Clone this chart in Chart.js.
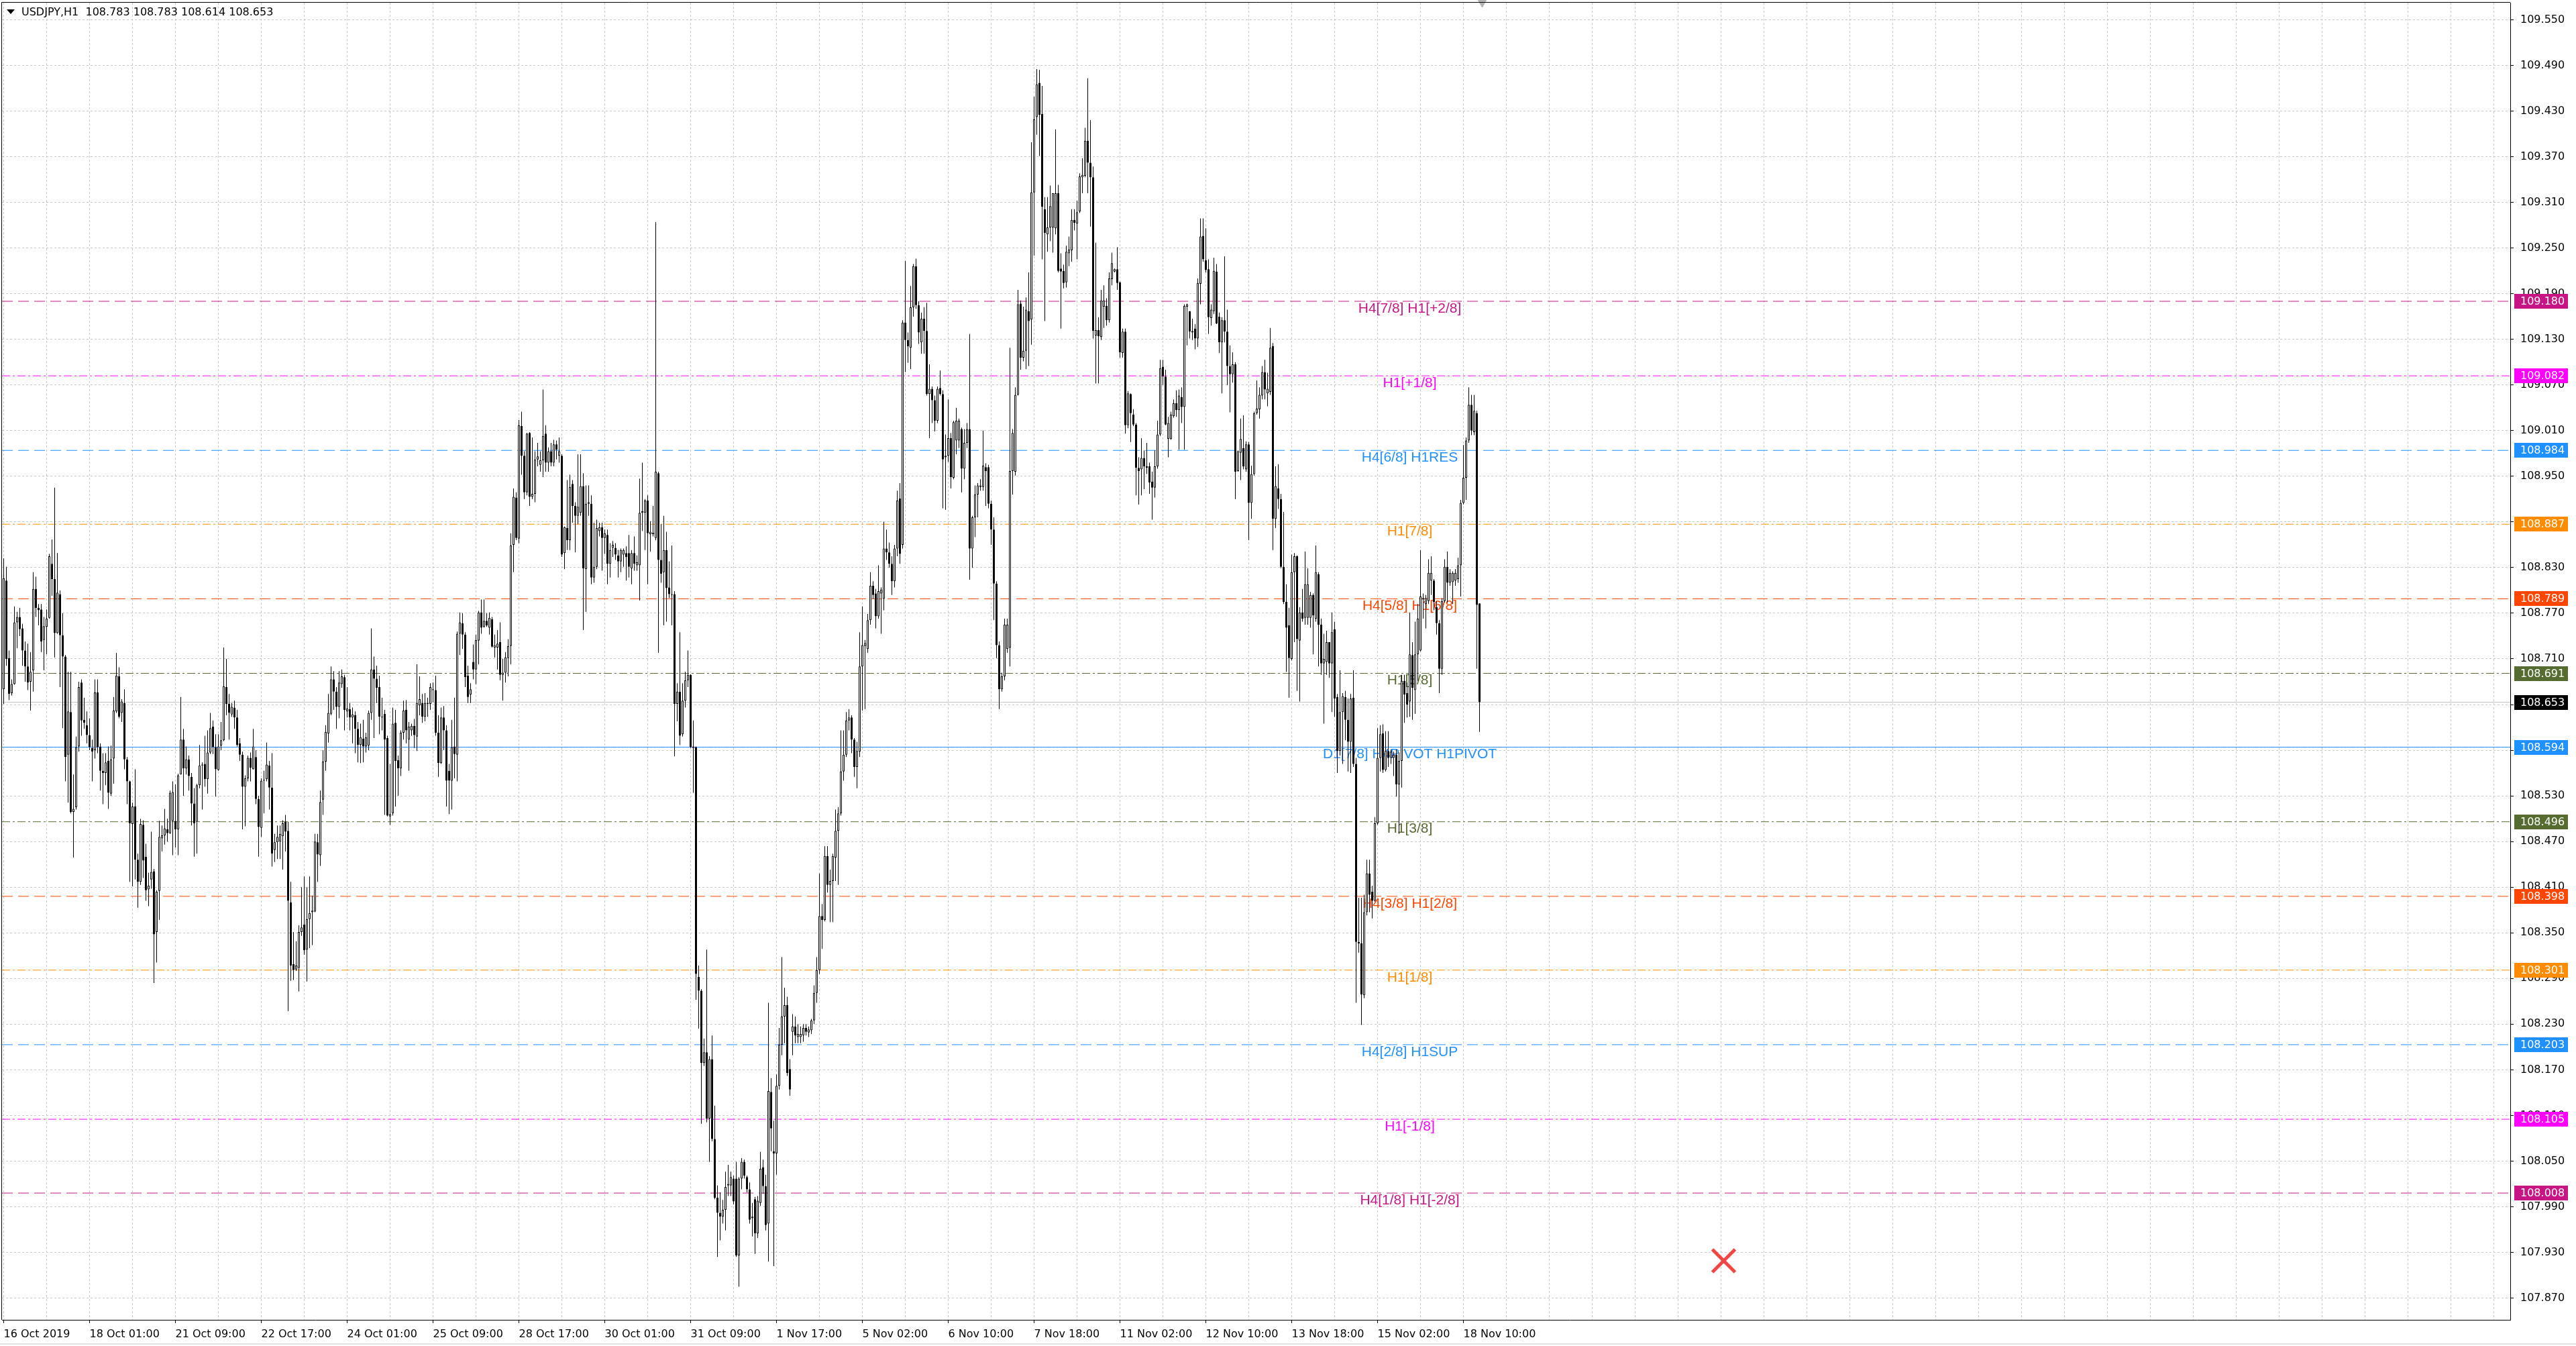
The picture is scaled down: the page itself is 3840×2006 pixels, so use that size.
<!DOCTYPE html>
<html>
<head>
<meta charset="utf-8">
<title>USDJPY,H1</title>
<script src="https://cdn.jsdelivr.net/npm/chart.js@4.4.1/dist/chart.umd.min.js"></script>
<style>
  html, body { margin: 0; padding: 0; background: #fff; overflow: hidden; }
  canvas { display: block; }
</style>
</head>
<body>
<canvas id="chart" width="3840" height="2006"></canvas>
<script>
// USDJPY H1 candles, bar 0 = 16 Oct 2019 17:00, one bar per hour
const openPrices = [
  108.670,108.813,108.711,108.665,108.677,108.758,108.765,108.750,108.721,108.700,
  108.680,108.695,108.802,108.777,108.775,108.735,108.752,108.764,108.835,108.815,
  108.744,108.795,108.741,108.713,108.584,108.640,108.509,108.515,108.595,108.679,
  108.630,108.623,108.610,108.593,108.590,108.666,108.595,108.563,108.560,108.576,
  108.533,108.579,108.641,108.687,108.639,108.652,108.578,108.549,108.493,108.516,
  108.446,108.417,108.492,108.450,108.407,108.420,108.431,108.351,108.405,108.474,
  108.478,108.486,108.481,108.497,108.497,108.486,108.558,108.604,108.566,108.578,
  108.555,108.520,108.496,108.544,108.571,108.572,108.552,108.587,108.621,108.594,
  108.564,108.596,108.603,108.673,108.651,108.637,108.646,108.633,108.599,108.584,
  108.542,108.553,108.580,108.565,108.581,108.526,108.488,108.550,108.552,108.570,
  108.541,108.459,108.469,108.470,108.477,108.496,108.484,108.390,108.309,108.302,
  108.304,108.351,108.361,108.328,108.368,108.377,108.378,108.469,108.452,108.525,
  108.575,108.612,108.638,108.683,108.667,108.647,108.677,108.686,108.641,108.644,
  108.633,108.636,108.618,108.597,108.605,108.595,108.596,108.639,108.696,108.684,
  108.673,108.634,108.638,108.606,108.503,108.507,108.626,108.577,108.566,108.613,
  108.643,108.604,108.616,108.622,108.608,108.649,108.652,108.634,108.652,108.651,
  108.670,108.669,108.613,108.573,108.633,108.616,108.563,108.550,108.595,108.584,
  108.743,108.757,108.742,108.688,108.663,108.706,108.696,108.734,108.771,108.752,
  108.760,108.751,108.762,108.725,108.725,108.732,108.689,108.692,108.711,108.727,
  108.860,108.922,108.868,109.016,108.977,108.929,109.007,108.923,108.927,108.972,
  108.965,108.971,109.006,108.968,108.983,108.968,108.992,108.977,108.977,108.849,
  108.882,108.866,108.940,108.911,108.898,108.902,108.937,108.828,108.914,108.914,
  108.817,108.831,108.878,108.883,108.869,108.873,108.835,108.856,108.856,108.846,
  108.838,108.847,108.849,108.849,108.829,108.849,108.833,108.833,108.902,108.902,
  108.918,108.874,108.874,108.869,108.954,108.840,108.824,108.853,108.804,108.794,
  108.795,108.651,108.667,108.611,108.655,108.682,108.689,108.595,108.594,108.292,
  108.274,108.179,108.193,108.106,108.184,108.079,108.002,107.982,107.977,107.986,
  108.018,108.018,108.027,108.027,107.926,108.027,108.049,108.029,108.013,107.975,
  108.000,107.955,107.995,108.042,108.017,107.968,108.141,108.063,108.060,108.149,
  108.203,108.240,108.255,108.171,108.220,108.227,108.213,108.213,108.215,108.225,
  108.219,108.222,108.235,108.271,108.301,108.372,108.367,108.451,108.413,108.418,
  108.449,108.484,108.507,108.562,108.584,108.629,108.633,108.604,108.568,108.588,
  108.700,108.727,108.723,108.761,108.806,108.796,108.766,108.796,108.789,108.855,
  108.850,108.835,108.812,108.855,108.921,108.860,109.152,109.129,109.119,109.172,
  109.226,109.175,109.126,109.157,109.141,109.058,109.065,109.050,109.023,109.066,
  109.058,108.975,108.977,109.000,108.948,108.997,108.997,109.012,108.960,108.994,
  109.012,108.855,108.896,108.926,108.936,108.936,108.962,108.962,108.914,108.880,
  108.809,108.728,108.670,108.687,108.723,108.725,108.957,108.956,109.057,109.177,
  109.106,109.115,109.167,109.156,109.323,109.422,109.467,109.426,109.301,109.268,
  109.277,109.277,109.276,109.322,109.223,109.220,109.205,109.243,109.247,109.287,
  109.282,109.298,109.343,109.345,109.391,109.362,109.343,109.135,109.142,109.133,
  109.173,109.174,109.155,109.209,109.219,109.222,109.205,109.112,109.140,109.017,
  109.058,109.031,109.018,108.961,108.959,108.974,108.963,108.963,108.943,108.935,
  108.963,109.005,109.094,109.081,108.999,108.999,109.029,109.046,109.037,109.054,
  109.041,109.173,109.167,109.139,109.144,109.131,109.203,109.266,109.234,109.222,
  109.158,109.167,109.219,109.160,109.126,109.155,109.140,109.095,109.084,109.097,
  108.957,108.981,108.987,108.959,108.992,108.915,108.953,109.033,109.038,109.056,
  109.087,109.059,109.061,109.121,108.894,108.934,108.920,108.831,108.785,108.754,
  108.710,108.824,108.845,108.734,108.771,108.764,108.764,108.764,108.794,108.763,
  108.821,108.755,108.704,108.706,108.732,108.704,108.749,108.660,108.589,108.640,
  108.660,108.630,108.601,108.659,108.572,108.338,108.336,108.268,108.377,108.428,
  108.404,108.392,108.494,108.580,108.612,108.564,108.589,108.580,108.580,108.584,
  108.545,108.576,108.681,108.665,108.654,108.715,108.669,108.716,108.721,108.788,
  108.782,108.786,108.813,108.813,108.778,108.757,108.697,108.786,108.831,108.810,
  108.811,108.813,108.815,108.833,108.915,108.948,108.997,109.044,109.008,109.033,
  108.783
];
const highPrices = [
  108.842,108.831,108.721,108.683,108.779,108.772,108.777,108.756,108.733,108.730,
  108.719,108.824,108.818,108.782,108.782,108.765,108.775,108.848,108.867,108.935,
  108.849,108.800,108.770,108.715,108.693,108.693,108.558,108.608,108.680,108.683,
  108.659,108.641,108.632,108.604,108.683,108.683,108.599,108.586,108.586,108.595,
  108.596,108.660,108.718,108.699,108.657,108.670,108.581,108.550,108.521,108.565,
  108.454,108.500,108.498,108.467,108.429,108.483,108.434,108.406,108.497,108.491,
  108.513,108.500,108.537,108.549,108.545,108.559,108.660,108.618,108.595,108.583,
  108.560,108.540,108.546,108.597,108.574,108.609,108.616,108.639,108.629,108.611,
  108.611,108.627,108.725,108.710,108.664,108.652,108.655,108.643,108.606,108.588,
  108.557,108.583,108.587,108.618,108.590,108.530,108.553,108.563,108.600,108.576,
  108.586,108.480,108.491,108.491,108.498,108.505,108.496,108.417,108.351,108.339,
  108.360,108.410,108.424,108.410,108.424,108.399,108.480,108.480,108.537,108.590,
  108.623,108.664,108.700,108.694,108.673,108.694,108.696,108.689,108.673,108.652,
  108.646,108.641,108.627,108.625,108.630,108.613,108.642,108.750,108.713,108.701,
  108.688,108.659,108.643,108.609,108.572,108.646,108.643,108.583,108.616,108.655,
  108.656,108.627,108.625,108.631,108.703,108.687,108.664,108.665,108.659,108.678,
  108.679,108.688,108.636,108.646,108.648,108.623,108.572,108.630,108.659,108.746,
  108.771,108.770,108.745,108.701,108.678,108.729,108.742,108.773,108.788,108.788,
  108.770,108.771,108.765,108.742,108.748,108.758,108.710,108.719,108.736,108.875,
  108.934,108.929,109.024,109.035,108.983,109.007,109.008,109.001,108.983,108.994,
  108.983,109.064,109.017,108.988,108.994,108.998,108.997,109.001,108.979,108.884,
  108.945,108.952,108.945,108.916,108.979,108.979,108.954,108.938,108.938,108.925,
  108.889,108.893,108.889,108.889,108.880,108.880,108.862,108.865,108.862,108.853,
  108.855,108.855,108.858,108.873,108.853,108.871,108.846,108.947,108.968,108.920,
  108.925,108.891,108.911,109.284,108.956,108.887,108.898,108.877,108.838,108.859,
  108.799,108.678,108.745,108.678,108.693,108.721,108.690,108.629,108.595,108.307,
  108.276,108.211,108.328,108.188,108.215,108.123,108.018,108.009,107.999,108.036,
  108.045,108.036,108.031,108.049,108.029,108.054,108.052,108.031,108.022,107.995,
  108.003,108.004,108.062,108.052,108.032,108.258,108.159,108.103,108.164,108.225,
  108.318,108.278,108.266,108.184,108.243,108.240,108.230,108.227,108.230,108.230,
  108.227,108.237,108.281,108.318,108.428,108.388,108.464,108.464,108.433,108.454,
  108.512,108.515,108.616,108.616,108.640,108.644,108.636,108.606,108.601,108.745,
  108.779,108.735,108.769,108.824,108.812,108.802,108.833,108.804,108.890,108.880,
  108.863,108.845,108.860,108.931,108.941,109.155,109.233,109.139,109.200,109.229,
  109.236,109.180,109.165,109.172,109.178,109.097,109.068,109.056,109.068,109.089,
  109.063,109.005,109.051,109.007,109.023,109.040,109.026,109.014,109.012,109.020,
  109.137,108.898,108.938,108.941,108.946,109.010,108.967,108.965,108.918,108.896,
  108.812,108.733,108.692,108.763,108.763,109.119,109.012,109.067,109.195,109.181,
  109.173,109.185,109.218,109.389,109.449,109.485,109.484,109.463,109.317,109.317,
  109.332,109.322,109.406,109.333,109.243,109.228,109.253,109.265,109.301,109.301,
  109.312,109.348,109.368,109.408,109.473,109.418,109.357,109.257,109.159,109.195,
  109.201,109.184,109.218,109.244,109.223,109.251,109.206,109.144,109.144,109.062,
  109.059,109.038,109.020,108.975,109.000,108.984,108.994,108.968,108.956,108.984,
  109.023,109.103,109.103,109.090,109.028,109.035,109.051,109.063,109.064,109.067,
  109.176,109.177,109.167,109.157,109.150,109.210,109.289,109.289,109.276,109.235,
  109.176,109.237,109.229,109.165,109.159,109.239,109.169,109.122,109.113,109.100,
  108.984,109.026,109.030,108.996,108.995,108.964,109.035,109.076,109.067,109.095,
  109.103,109.086,109.145,109.125,108.963,108.966,108.927,108.903,108.808,108.777,
  108.847,108.849,108.846,108.778,108.802,108.851,108.829,108.798,108.796,108.859,
  108.824,108.763,108.743,108.747,108.732,108.771,108.759,108.664,108.695,108.665,
  108.668,108.658,108.664,108.695,108.580,108.396,108.396,108.400,108.446,108.446,
  108.412,108.502,108.619,108.623,108.624,108.615,108.615,108.591,108.588,108.591,
  108.587,108.689,108.689,108.679,108.771,108.732,108.759,108.782,108.853,108.796,
  108.794,108.841,108.845,108.815,108.786,108.761,108.790,108.841,108.851,108.828,
  108.825,108.828,108.843,108.919,108.991,109.001,109.067,109.057,109.057,109.036,
  108.783
];
const lowPrices = [
  108.651,108.701,108.656,108.662,108.676,108.724,108.740,108.701,108.680,108.669,
  108.642,108.667,108.765,108.754,108.719,108.695,108.716,108.763,108.793,108.712,
  108.743,108.673,108.619,108.549,108.521,108.507,108.449,108.512,108.588,108.609,
  108.618,108.599,108.590,108.549,108.579,108.586,108.537,108.519,108.544,108.513,
  108.530,108.546,108.639,108.632,108.627,108.565,108.519,108.417,108.411,108.420,
  108.383,108.413,108.422,108.392,108.385,108.408,108.284,108.311,108.367,108.457,
  108.466,108.470,108.480,108.452,108.462,108.452,108.558,108.530,108.558,108.537,
  108.491,108.450,108.454,108.540,108.512,108.542,108.533,108.585,108.585,108.529,
  108.563,108.590,108.602,108.636,108.604,108.634,108.618,108.595,108.576,108.486,
  108.490,108.549,108.549,108.565,108.519,108.450,108.476,108.507,108.549,108.512,
  108.437,108.443,108.447,108.447,108.433,108.457,108.247,108.287,108.288,108.300,
  108.273,108.346,108.321,108.286,108.330,108.334,108.377,108.417,108.438,108.505,
  108.563,108.600,108.636,108.643,108.618,108.632,108.672,108.616,108.633,108.616,
  108.599,108.586,108.574,108.573,108.574,108.587,108.590,108.630,108.606,108.652,
  108.611,108.616,108.505,108.503,108.492,108.504,108.516,108.530,108.556,108.604,
  108.599,108.563,108.609,108.593,108.589,108.636,108.626,108.628,108.634,108.643,
  108.653,108.609,108.555,108.572,108.590,108.516,108.506,108.512,108.553,108.549,
  108.715,108.723,108.673,108.652,108.652,108.683,108.677,108.703,108.743,108.751,
  108.752,108.742,108.725,108.712,108.696,108.682,108.655,108.679,108.687,108.703,
  108.824,108.866,108.862,108.952,108.920,108.925,108.911,108.920,108.916,108.963,
  108.956,108.949,108.956,108.956,108.963,108.963,108.972,108.968,108.844,108.828,
  108.853,108.853,108.889,108.850,108.887,108.898,108.748,108.772,108.898,108.808,
  108.810,108.828,108.871,108.826,108.848,108.808,108.817,108.844,108.840,108.817,
  108.824,108.831,108.813,108.817,108.808,108.826,108.826,108.787,108.878,108.853,
  108.808,108.851,108.871,108.866,108.718,108.810,108.754,108.759,108.790,108.754,
  108.582,108.628,108.597,108.608,108.646,108.673,108.593,108.534,108.262,108.224,
  108.099,108.175,108.101,108.049,108.076,108.000,107.924,107.946,107.968,107.959,
  108.004,108.004,107.993,107.924,107.885,108.013,108.027,108.009,107.968,107.951,
  107.928,107.949,107.991,108.007,107.959,107.918,108.063,107.912,108.032,108.144,
  108.189,108.205,108.162,108.136,108.189,108.205,108.205,108.205,108.207,108.215,
  108.213,108.217,108.230,108.258,108.296,108.329,108.365,108.403,108.364,108.364,
  108.418,108.413,108.504,108.550,108.581,108.616,108.586,108.555,108.540,108.581,
  108.642,108.644,108.718,108.755,108.789,108.750,108.763,108.743,108.774,108.840,
  108.830,108.794,108.804,108.845,108.835,108.855,109.087,109.099,109.091,109.160,
  109.170,109.124,109.111,109.111,109.056,109.000,109.020,109.009,109.020,109.056,
  108.908,108.906,108.969,108.934,108.946,108.979,108.987,108.929,108.946,108.987,
  108.814,108.830,108.870,108.896,108.931,108.931,108.911,108.908,108.860,108.761,
  108.711,108.644,108.667,108.682,108.718,108.700,108.926,108.951,109.056,109.090,
  109.101,109.091,109.095,109.123,109.240,109.399,109.371,109.235,109.154,109.245,
  109.259,109.244,109.268,109.218,109.144,109.197,109.198,109.226,109.232,109.273,
  109.235,109.296,109.322,109.343,109.322,109.278,109.131,109.072,109.072,109.129,
  109.145,109.148,109.152,109.201,109.218,109.195,109.106,109.106,109.006,109.013,
  108.995,109.016,108.925,108.913,108.925,108.933,108.953,108.927,108.893,108.922,
  108.960,109.003,109.070,109.017,108.975,108.998,109.027,109.028,108.985,109.020,
  108.985,109.122,109.131,109.129,109.117,109.120,109.176,109.232,109.218,109.137,
  109.148,109.163,109.150,109.112,109.059,109.126,109.070,109.034,109.073,108.920,
  108.956,108.945,108.959,108.956,108.866,108.894,108.951,109.031,109.026,109.051,
  109.051,109.042,109.057,108.853,108.882,108.907,108.829,108.782,108.693,108.659,
  108.708,108.732,108.668,108.654,108.759,108.755,108.755,108.751,108.716,108.759,
  108.700,108.689,108.625,108.689,108.685,108.640,108.634,108.560,108.583,108.572,
  108.603,108.562,108.560,108.568,108.258,108.324,108.229,108.264,108.373,108.377,
  108.369,108.391,108.492,108.562,108.560,108.562,108.568,108.572,108.556,108.529,
  108.480,108.541,108.626,108.633,108.634,108.630,108.638,108.681,108.720,108.763,
  108.750,108.782,108.794,108.774,108.742,108.665,108.689,108.784,108.784,108.806,
  108.782,108.806,108.810,108.792,108.913,108.919,108.994,109.004,109.004,108.697,
  108.614
];
const closePrices = [
  108.816,108.710,108.664,108.677,108.758,108.765,108.749,108.721,108.700,108.679,
  108.693,108.802,108.777,108.774,108.733,108.753,108.763,108.845,108.815,108.744,
  108.797,108.741,108.713,108.581,108.641,108.509,108.513,108.594,108.673,108.629,
  108.626,108.610,108.594,108.588,108.666,108.594,108.563,108.560,108.574,108.534,
  108.578,108.642,108.688,108.634,108.654,108.578,108.549,108.494,108.516,108.446,
  108.417,108.493,108.445,108.406,108.412,108.430,108.348,108.404,108.476,108.478,
  108.487,108.481,108.534,108.535,108.486,108.557,108.604,108.566,108.578,108.556,
  108.520,108.494,108.544,108.570,108.570,108.552,108.587,108.619,108.594,108.565,
  108.595,108.603,108.674,108.651,108.639,108.647,108.633,108.597,108.584,108.542,
  108.553,108.580,108.567,108.595,108.526,108.489,108.550,108.551,108.571,108.541,
  108.454,108.469,108.476,108.480,108.494,108.483,108.392,108.307,108.301,108.307,
  108.351,108.357,108.327,108.368,108.376,108.379,108.470,108.453,108.522,108.575,
  108.614,108.639,108.683,108.667,108.647,108.679,108.687,108.643,108.645,108.633,
  108.637,108.618,108.597,108.607,108.595,108.607,108.639,108.696,108.684,108.672,
  108.634,108.633,108.604,108.504,108.506,108.625,108.576,108.566,108.613,108.642,
  108.616,108.621,108.622,108.610,108.652,108.657,108.634,108.652,108.651,108.673,
  108.669,108.613,108.573,108.633,108.616,108.550,108.550,108.594,108.585,108.743,
  108.758,108.742,108.686,108.660,108.670,108.696,108.735,108.771,108.751,108.760,
  108.754,108.764,108.726,108.728,108.730,108.689,108.692,108.712,108.727,108.859,
  108.923,108.869,109.017,108.977,108.929,109.006,108.923,108.927,108.972,108.976,
  108.971,109.003,108.968,108.983,108.968,108.992,108.985,108.983,108.847,108.883,
  108.866,108.936,108.911,108.898,108.910,108.937,108.829,108.914,108.916,108.817,
  108.831,108.882,108.883,108.869,108.875,108.835,108.853,108.860,108.847,108.838,
  108.853,108.853,108.844,108.831,108.849,108.835,108.837,108.902,108.904,108.918,
  108.875,108.877,108.876,108.956,108.840,108.822,108.853,108.803,108.795,108.795,
  108.651,108.667,108.609,108.655,108.682,108.689,108.594,108.593,108.296,108.274,
  108.179,108.193,108.106,108.184,108.079,108.002,107.982,107.977,107.986,108.016,
  108.020,108.029,107.997,107.926,108.027,108.049,108.031,108.013,107.973,107.977,
  107.955,107.998,108.040,108.017,107.966,108.142,108.093,108.060,108.149,108.203,
  108.240,108.255,108.166,108.144,108.227,108.215,108.217,108.217,108.225,108.220,
  108.223,108.235,108.271,108.301,108.372,108.367,108.451,108.413,108.418,108.451,
  108.484,108.507,108.562,108.584,108.629,108.633,108.604,108.568,108.589,108.700,
  108.728,108.731,108.761,108.806,108.794,108.766,108.799,108.801,108.855,108.850,
  108.835,108.812,108.855,108.918,108.848,109.152,109.129,109.121,109.172,109.226,
  109.175,109.139,109.157,109.141,109.058,109.065,109.050,109.023,109.065,109.058,
  108.972,108.977,109.000,108.949,109.021,109.023,109.023,108.960,108.994,109.012,
  108.855,108.896,108.926,108.938,108.938,108.964,108.957,108.914,108.880,108.809,
  108.728,108.670,108.687,108.755,108.755,108.957,109.007,109.057,109.176,109.106,
  109.115,109.169,109.154,109.323,109.419,109.465,109.425,109.304,109.270,109.277,
  109.305,109.322,109.322,109.220,109.219,109.204,109.245,109.248,109.287,109.283,
  109.297,109.344,109.346,109.391,109.362,109.343,109.141,109.142,109.134,109.181,
  109.181,109.155,109.210,109.230,109.222,109.204,109.113,109.140,109.017,109.059,
  109.033,109.018,108.961,108.957,108.974,108.963,108.961,108.942,108.935,108.963,
  109.005,109.092,109.081,109.018,109.020,109.031,109.046,109.037,109.056,109.041,
  109.174,109.176,109.140,109.141,109.131,109.204,109.265,109.235,109.221,109.159,
  109.169,109.220,109.151,109.126,109.155,109.140,109.095,109.084,109.097,108.956,
  108.983,108.999,108.963,108.992,108.915,108.953,109.033,109.039,109.057,109.087,
  109.064,109.065,109.119,108.894,108.937,108.920,108.831,108.785,108.751,108.711,
  108.824,108.845,108.736,108.771,108.763,108.808,108.808,108.794,108.767,108.824,
  108.755,108.704,108.710,108.732,108.704,108.745,108.658,108.589,108.640,108.661,
  108.630,108.601,108.658,108.572,108.338,108.336,108.269,108.377,108.428,108.400,
  108.392,108.494,108.580,108.611,108.564,108.589,108.580,108.588,108.584,108.545,
  108.576,108.681,108.663,108.650,108.716,108.672,108.716,108.763,108.792,108.790,
  108.790,108.823,108.823,108.785,108.757,108.697,108.786,108.831,108.810,108.823,
  108.823,108.823,108.833,108.915,108.948,108.997,109.044,109.010,109.036,108.781,
  108.653
];

// time axis labels (every 32 bars)
const xLabelBars = [0, 32, 64, 96, 128, 160, 192, 224, 256, 288, 320, 352, 384, 416, 448, 480, 512, 544];
const xLabels = ['16 Oct 2019', '18 Oct 01:00', '21 Oct 09:00', '22 Oct 17:00', '24 Oct 01:00', '25 Oct 09:00',
  '28 Oct 17:00', '30 Oct 01:00', '31 Oct 09:00', '1 Nov 17:00', '5 Nov 02:00', '6 Nov 10:00',
  '7 Nov 18:00', '11 Nov 02:00', '12 Nov 10:00', '13 Nov 18:00', '15 Nov 02:00', '18 Nov 10:00'];

// price axis ticks
const yTicks = [107.870, 107.930, 107.990, 108.050, 108.110, 108.170, 108.230, 108.290, 108.350, 108.410,
  108.470, 108.530, 108.590, 108.650, 108.710, 108.770, 108.830, 108.890, 108.950, 109.010,
  109.070, 109.130, 109.190, 109.250, 109.310, 109.370, 109.430, 109.490, 109.550];

// murrey math levels
const levelPrices = [109.180, 109.082, 108.984, 108.887, 108.789, 108.691, 108.594, 108.496, 108.398, 108.301, 108.203, 108.105, 108.008];
const levelNames = ['H4[7/8] H1[+2/8]', 'H1[+1/8]', 'H4[6/8] H1RES', 'H1[7/8]', 'H4[5/8] H1[6/8]', 'H1[5/8]',
  'D1[7/8] H4PIVOT H1PIVOT', 'H1[3/8]', 'H4[3/8] H1[2/8]', 'H1[1/8]', 'H4[2/8] H1SUP', 'H1[-1/8]', 'H4[1/8] H1[-2/8]'];
const bidPrice = [108.653];

// the red cross object
const markX = [641];
const markY = [107.919];

// ---- styles ----
const DASH = [16, 8];
const DASHDOT = [12, 4, 3, 4];
const levelStyles = [
  { color: '#c71585', dash: DASH },
  { color: '#ff00ff', dash: DASHDOT },
  { color: '#1e90ff', dash: DASH },
  { color: '#ff8c00', dash: DASHDOT },
  { color: '#ff4500', dash: DASH },
  { color: '#556b2f', dash: DASHDOT },
  { color: '#1e90ff', dash: [] },
  { color: '#556b2f', dash: DASHDOT },
  { color: '#ff4500', dash: DASH },
  { color: '#ff8c00', dash: DASHDOT },
  { color: '#1e90ff', dash: DASH },
  { color: '#ff00ff', dash: DASHDOT },
  { color: '#c71585', dash: DASH }
];

Chart.defaults.font.family = '"DejaVu Sans", sans-serif';
Chart.defaults.font.size = 16;
Chart.defaults.color = '#000';

// 4 px per bar, plot area 3..3742 x 4..1967
const xMin = -0.625, xMax = 934.125;
const yMin = 107.8414, yMax = 109.5724;
const labelBar = 524;

const bodyData = openPrices.map((o, i) => {
    let lo = Math.min(o, closePrices[i]);
    let hi = Math.max(o, closePrices[i]);
    if (hi - lo < 0.0009) { // keep doji visible as a 1px line
        const m = (hi + lo) / 2;
        lo = m - 0.00045;
        hi = m + 0.00045;
    }
    return { x: i, y: [lo, hi] };
});
const wickData = openPrices.map((o, i) => ({ x: i, y: [lowPrices[i], highPrices[i]] }));
const bodyColors = openPrices.map((o, i) => closePrices[i] >= o ? '#ffffff' : '#000000');

const gridBars = [];
for (let v = 0; v <= xMax; v += 16) gridBars.push(v);

const levelSets = levelPrices.map((p, k) => ({
    type: 'line',
    data: [{ x: xMin, y: p }, { x: xMax, y: p }],
    borderColor: levelStyles[k].color,
    borderWidth: 1,
    borderDash: levelStyles[k].dash,
    pointRadius: 0,
    fill: false,
    order: 10
}));

const overlay = {
    id: 'overlay',
    beforeDatasetsDraw(chart) {
        const { ctx, scales: { x, y } } = chart;
        ctx.save();
        ctx.font = '21px "Liberation Sans", Arial, sans-serif';
        ctx.textAlign = 'center';
        ctx.textBaseline = 'middle';
        const cx = x.getPixelForValue(labelBar);
        levelPrices.forEach((p, k) => {
            ctx.fillStyle = levelStyles[k].color;
            ctx.fillText(levelNames[k], cx, y.getPixelForValue(p) + 11);
        });
        ctx.restore();
    },
    afterDraw(chart) {
        const { ctx, chartArea: a, scales: { y } } = chart;
        ctx.save();
        // left and top frame
        ctx.strokeStyle = '#000';
        ctx.lineWidth = 1;
        ctx.beginPath();
        ctx.moveTo(a.left - 0.5, a.bottom);
        ctx.lineTo(a.left - 0.5, a.top - 0.5);
        ctx.lineTo(a.right, a.top - 0.5);
        ctx.stroke();
        // window edge under the time axis
        ctx.fillStyle = '#e2e2e2';
        ctx.fillRect(0, chart.height - 4, chart.width, 2);

        // price tags on the right axis
        ctx.font = '16px "DejaVu Sans", sans-serif';
        ctx.textAlign = 'left';
        ctx.textBaseline = 'middle';
        const tags = levelPrices.map((p, k) => [p, levelStyles[k].color]);
        tags.push([bidPrice[0], '#000000']);
        tags.forEach(([p, c]) => {
            const py = Math.round(y.getPixelForValue(p));
            ctx.fillStyle = c;
            ctx.fillRect(a.right + 6, py - 11, 80, 22);
            ctx.fillStyle = '#ffffff';
            ctx.fillText(p.toFixed(3), a.right + 15, py + 1);
        });

        // header
        const last = openPrices.length - 1;
        ctx.fillStyle = '#000';
        ctx.beginPath();
        ctx.moveTo(a.left + 7, 14);
        ctx.lineTo(a.left + 19, 14);
        ctx.lineTo(a.left + 13, 21);
        ctx.closePath();
        ctx.fill();
        const head = 'USDJPY,H1  ' + [openPrices[last], highPrices[last], lowPrices[last], closePrices[last]]
            .map(v => v.toFixed(3)).join(' ');
        ctx.fillText(head, a.left + 29, 19);
        ctx.restore();
    }
};

const chart = new Chart(document.getElementById('chart'), {
    type: 'bar',
    data: {
        datasets: [
            {
                type: 'scatter',
                data: markX.map((v, k) => ({ x: v, y: markY[k] })),
                pointStyle: 'crossRot',
                pointRadius: 24,
                borderColor: '#f04646',
                pointBorderColor: '#f04646',
                borderWidth: 5,
                pointBorderWidth: 5,
                order: 0
            },
            {
                // chart shift marker, one bar past the last candle
                type: 'scatter',
                data: [{ x: openPrices.length, y: yMax }],
                pointStyle: 'triangle',
                pointRotation: 180,
                pointRadius: 7,
                pointBackgroundColor: '#b4b4b4',
                pointBorderColor: '#b4b4b4',
                pointBorderWidth: 1,
                clip: false,
                order: 0
            },
            {
                data: bodyData,
                backgroundColor: bodyColors,
                borderColor: '#000000',
                borderWidth: 1,
                borderSkipped: false,
                barThickness: 3,
                grouped: false,
                inflateAmount: 0,
                order: 1
            },
            {
                data: wickData,
                backgroundColor: '#000000',
                borderWidth: 0,
                barThickness: 1,
                grouped: false,
                inflateAmount: 0,
                order: 2
            },
            {
                type: 'line',
                data: [{ x: xMin, y: bidPrice[0] }, { x: xMax, y: bidPrice[0] }],
                borderColor: '#c0c0c0',
                borderWidth: 1,
                pointRadius: 0,
                fill: false,
                order: 9
            },
            ...levelSets
        ]
    },
    options: {
        responsive: false,
        animation: false,
        events: [],
        layout: { autoPadding: false, padding: { left: 3, top: 4, right: 0, bottom: 0 } },
        plugins: {
            legend: { display: false },
            tooltip: { enabled: false }
        },
        scales: {
            x: {
                type: 'linear',
                min: xMin,
                max: xMax,
                offset: false,
                afterBuildTicks: s => { s.ticks = gridBars.map(v => ({ value: v })); },
                afterFit: s => {
                    s.height = 39;
                    s.paddingLeft = 0;
                    s.paddingRight = 0;
                },
                grid: {
                    offset: false,
                    color: '#c8c8c8',
                    lineWidth: 1,
                    tickLength: 5,
                    tickColor: c => xLabelBars.includes(c.tick && c.tick.value) ? '#000' : 'rgba(0,0,0,0)'
                },
                border: { display: true, color: '#000', width: 1, dash: [3, 3] },
                ticks: {
                    autoSkip: false,
                    maxRotation: 0,
                    minRotation: 0,
                    align: 'start',
                    padding: 7,
                    color: '#000',
                    callback: v => {
                        const k = xLabelBars.indexOf(v);
                        return k >= 0 ? xLabels[k] : '';
                    }
                }
            },
            y: {
                position: 'right',
                min: yMin,
                max: yMax,
                beginAtZero: false,
                afterBuildTicks: s => { s.ticks = yTicks.map(v => ({ value: v })); },
                afterFit: s => {
                    s.width = 98;
                    s.paddingTop = 0;
                    s.paddingBottom = 0;
                },
                grid: { color: '#c8c8c8', lineWidth: 1, tickLength: 5, tickColor: '#000' },
                border: { display: true, color: '#000', width: 1, dash: [3, 3] },
                ticks: {
                    padding: 10,
                    color: '#000',
                    callback: v => Number(v).toFixed(3)
                }
            }
        }
    },
    plugins: [overlay]
});
</script>
</body>
</html>
